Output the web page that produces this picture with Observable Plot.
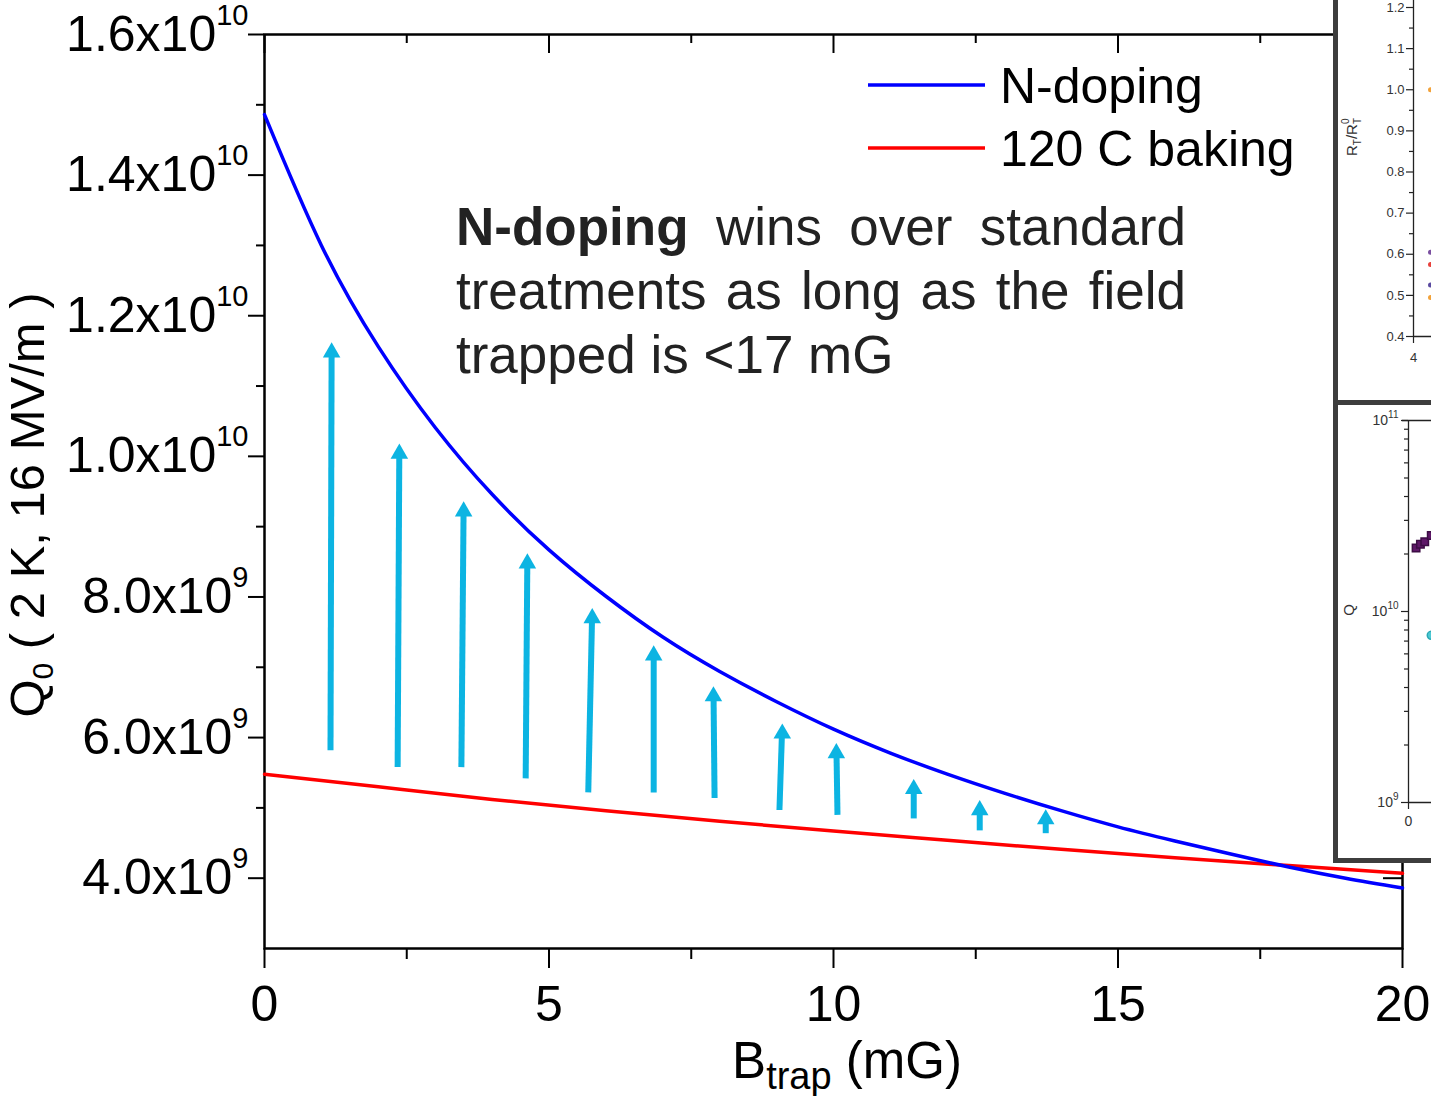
<!DOCTYPE html>
<html>
<head>
<meta charset="utf-8">
<script src="https://cdn.jsdelivr.net/npm/d3@7"></script>
<script src="https://cdn.jsdelivr.net/npm/@observablehq/plot@0.6"></script>
<style>
  html, body { margin:0; padding:0; background:#fff; overflow:hidden; width:1431px; height:1096px; }
  #wrap { position:relative; width:1431px; height:1096px; overflow:hidden; font-family:"Liberation Sans", Arial, sans-serif; }
  #main { position:absolute; left:0; top:0; }
  .note { position:absolute; left:456px; width:730px; font-size:53px; line-height:64px; color:#222; font-family:"Liberation Sans", Arial, sans-serif; }
  .note div { white-space:nowrap; }
  .note .j { text-align:justify; text-align-last:justify; white-space:normal; }
  .inset { position:absolute; box-sizing:border-box; border:5px solid #3d3d3d; background:#fff; overflow:hidden; }
  .inset svg { max-width:none !important; }
</style>
</head>
<body>
<div id="wrap">
  <div id="main"></div>
  <div class="note" style="top:195px;">
    <div class="j"><b>N-doping</b> wins over standard</div>
    <div class="j">treatments as long as the field</div>
    <div>trapped is &lt;17 mG</div>
  </div>
  <div class="inset" id="inset1" style="left:1333px; top:-10px; width:200px; height:415px;"></div>
  <div class="inset" id="inset2" style="left:1333px; top:400px; width:200px; height:463px;"></div>
</div>
<script>
// ---------------- data (main chart) ----------------
const bTrap = [0,1,2,3,4,5,6,7,8,9,10,11,12,13,14,15,16,17,18,19,20];
const qNDoping = [14.86e9,13.00e9,11.56e9,10.41e9,9.46e9,8.67e9,8.01e9,7.43e9,6.94e9,6.51e9,6.12e9,5.78e9,5.48e9,5.21e9,4.96e9,4.73e9,4.53e9,4.34e9,4.16e9,4.00e9,3.86e9];
const bTrapBaking = [0,2,4,6,8,10,12,14,16,18,20];
const qBaking = [5.48e9,5.30e9,5.12e9,4.96e9,4.81e9,4.67e9,4.54e9,4.41e9,4.29e9,4.18e9,4.07e9];

const arrowTailB = [1.16,2.34,3.46,4.59,5.69,6.84,7.91,9.05,10.07,11.41,12.57,13.73];
const arrowTailQ = [5.82e9,5.58e9,5.58e9,5.42e9,5.22e9,5.22e9,5.14e9,4.97e9,4.90e9,4.85e9,4.68e9,4.64e9];
const arrowTipB  = [1.18,2.37,3.50,4.62,5.76,6.84,7.89,9.10,10.05,11.41,12.57,13.73];
const arrowTipQ  = [11.62e9,10.18e9,9.36e9,8.62e9,7.84e9,7.31e9,6.73e9,6.20e9,5.92e9,5.41e9,5.11e9,4.98e9];

const xMajorTicks = [0,5,10,15,20];
const xMinorTicks = [2.5,7.5,12.5,17.5];
const yMajorTicks = [4e9,6e9,8e9,1.0e10,1.2e10,1.4e10,1.6e10];
const yMinorTicks = [5e9,7e9,9e9,1.1e10,1.3e10,1.5e10];
const yTickLabels = ["4.0x10^9","6.0x10^9","8.0x10^9","1.0x10^10","1.2x10^10","1.4x10^10","1.6x10^10"];

const seriesNames = ["N-doping","120 C baking"];
const seriesColors = ["#0000ff","#ff0000"];
const arrowColor = "#0cb4e2";

// ---------------- data (inset panels, cropped) ----------------
const inset1Ticks = [0.4,0.5,0.6,0.7,0.8,0.9,1.0,1.1,1.2];
const inset1Minor = [0.45,0.55,0.65,0.75,0.85,0.95,1.05,1.15];
const inset1Labels = ["0.4","0.5","0.6","0.7","0.8","0.9","1.0","1.1","1.2"];
const inset1X = [4.85,4.85,4.85,4.85,4.85];
const inset1Y = [1.0,0.605,0.575,0.525,0.495];
const inset1Colors = ["#f2a23a","#7a4fa0","#e8413c","#5a4aa0","#f2a23a"];

const inset2Major = [1e9,1e10,1e11];
const inset2Labels = ["10^9","10^10","10^11"];
const inset2Minor = [2e9,3e9,4e9,5e9,6e9,7e9,8e9,9e9,2e10,3e10,4e10,5e10,6e10,7e10,8e10,9e10];
const inset2SqX = [0.7,1.1,1.5,2.1];
const inset2SqQ = [2.15e10,2.25e10,2.32e10,2.5e10];
const inset2CircX = [2.1];
const inset2CircQ = [7.5e9];

// ---------------- main chart ----------------
const W = 1431, H = 1096, mL = 264, mT = 34, mR = 29, mB = 148;
const plotH = H - mT - mB, plotW = W - mL - mR;
const font = "Liberation Sans, Arial, sans-serif";

const curveData = bTrap.map((b,i) => ({b, q: qNDoping[i]}));
const bakingData = bTrapBaking.map((b,i) => ({b, q: qBaking[i]}));
const arrows = arrowTailB.map((b,i) => ({x1: b, y1: arrowTailQ[i], x2: arrowTipB[i], y2: arrowTipQ[i]}));

const main = Plot.plot({
  width: W, height: H,
  marginLeft: mL, marginTop: mT, marginRight: mR, marginBottom: mB,
  x: {domain: [0, 20], axis: null},
  y: {domain: [3e9, 1.6e10], axis: null},
  style: {fontFamily: font, background: "white", overflow: "visible", color: "black"},
  marks: [
    Plot.ruleX(xMajorTicks, {stroke: "black", strokeWidth: 2, insetTop: plotH, insetBottom: -20}),
    Plot.ruleX(xMinorTicks, {stroke: "black", strokeWidth: 2, insetTop: plotH, insetBottom: -11}),
    Plot.ruleX(xMajorTicks, {stroke: "black", strokeWidth: 2, insetBottom: plotH - 19}),
    Plot.ruleX(xMinorTicks, {stroke: "black", strokeWidth: 2, insetBottom: plotH - 9}),
    Plot.ruleY(yMajorTicks, {stroke: "black", strokeWidth: 2, insetLeft: -16, insetRight: plotW}),
    Plot.ruleY(yMinorTicks, {stroke: "black", strokeWidth: 2, insetLeft: -8, insetRight: plotW}),
    Plot.ruleY(yMajorTicks, {stroke: "black", strokeWidth: 2, insetLeft: plotW - 19}),
    Plot.ruleY(yMinorTicks, {stroke: "black", strokeWidth: 2, insetLeft: plotW - 9}),
    Plot.frame({stroke: "black", strokeWidth: 2.5}),
    Plot.line(bakingData, {x: "b", y: "q", stroke: seriesColors[1], strokeWidth: 3.5, curve: "natural"}),
    Plot.line(curveData, {x: "b", y: "q", stroke: seriesColors[0], strokeWidth: 3.5, curve: "natural"}),
    Plot.arrow(arrows, {x1: "x1", y1: "y1", x2: "x2", y2: "y2", stroke: arrowColor, strokeWidth: 6,
      headLength: 0, insetEnd: 9, strokeLinecap: "butt"}),
    Plot.dot(arrows, {x: "x2", y: "y2", symbol: "triangle", r: 6.5, fill: arrowColor, stroke: null, dy: 10}),
    Plot.text(xMajorTicks, {x: d => d, text: d => String(d), frameAnchor: "bottom", lineAnchor: "top",
      dy: 37, fontSize: 50, fill: "black"}),
    Plot.text(yMajorTicks, {y: d => d, text: (d, i) => yTickLabels[i], frameAnchor: "left", textAnchor: "end",
      dx: -16, fontSize: 50, fill: "black"})
  ]
});
document.getElementById("main").appendChild(main);

function superscriptify(svg, supSize, supDy) {
  d3.select(svg).selectAll("text").each(function() {
    const s = this.textContent;
    if (s.indexOf("^") < 0) return;
    const [base, exp] = s.split("^");
    const t = d3.select(this);
    t.selectAll("*").remove();
    t.text(null);
    t.append("tspan").text(base);
    t.append("tspan").attr("dy", supDy).attr("font-size", supSize).text(exp);
  });
}
superscriptify(main, 29, -26);

const svgM = d3.select(main);
// x title
const xt = svgM.append("text").attr("x", 847).attr("y", 1078).attr("text-anchor", "middle")
  .attr("font-size", 51).attr("fill", "black").attr("font-family", font);
xt.append("tspan").text("B");
xt.append("tspan").attr("font-size", 38).attr("dy", 11).text("trap");
xt.append("tspan").attr("dy", -11).text(" (mG)");
// y title
const yt = svgM.append("text").attr("transform", "translate(44,505) rotate(-90)").attr("text-anchor", "middle")
  .attr("font-size", 49).attr("fill", "black").attr("font-family", font);
yt.append("tspan").text("Q");
yt.append("tspan").attr("font-size", 30).attr("dy", 9).text("0");
yt.append("tspan").attr("dy", -9).text(" ( 2 K, 16 MV/m )");
// legend
const legY = [85, 148];
seriesNames.forEach((name, i) => {
  svgM.append("line").attr("x1", 868).attr("x2", 985).attr("y1", legY[i]).attr("y2", legY[i])
    .attr("stroke", seriesColors[i]).attr("stroke-width", 3.5);
  svgM.append("text").attr("x", 1000).attr("y", legY[i] + 18).attr("font-size", 50).attr("text-anchor", "start")
    .attr("fill", "black").attr("font-family", font).text(name);
});

function fixSize(p, w, h) {
  p.style.maxWidth = "none";
  p.style.width = w + "px";
  p.style.height = h + "px";
}

// ---------------- inset 1 (cropped) ----------------
{
  const w = 400, h = 400, l = 75, t = 12, b = 59, r = 5;
  const pw = w - l - r, ph = h - t - b;
  const pts = inset1X.map((x, i) => ({x, y: inset1Y[i], c: inset1Colors[i]}));
  const p = Plot.plot({
    width: w, height: h, marginLeft: l, marginTop: t, marginBottom: b, marginRight: r,
    x: {domain: [4, 20], axis: null}, y: {domain: [0.4, 1.2], axis: null},
    style: {fontFamily: font, background: "white", overflow: "visible", maxWidth: "none"},
    marks: [
      Plot.ruleX([4], {stroke: "#222", strokeWidth: 1.3, insetTop: -30}),
      Plot.ruleY([0.4], {stroke: "#222", strokeWidth: 1.3}),
      Plot.ruleY(inset1Ticks, {stroke: "#222", strokeWidth: 1.2, insetLeft: -7, insetRight: pw}),
      Plot.ruleY(inset1Minor, {stroke: "#222", strokeWidth: 1.2, insetLeft: -4, insetRight: pw}),
      Plot.ruleX([4], {stroke: "#222", strokeWidth: 1.2, insetTop: ph, insetBottom: -7}),
      Plot.text(inset1Ticks, {y: d => d, text: (d, i) => inset1Labels[i], frameAnchor: "left", textAnchor: "end",
        dx: -9, fontSize: 13, fill: "#333"}),
      Plot.text([4], {x: d => d, text: d => String(d), frameAnchor: "bottom", lineAnchor: "top", dy: 16,
        fontSize: 13, fill: "#333"}),
      Plot.dot(pts, {x: "x", y: "y", fill: "c", r: 2.5})
    ]
  });
  fixSize(p, w, h);
  document.getElementById("inset1").appendChild(p);
  const t1 = d3.select(p).append("text").attr("transform", "translate(19,142) rotate(-90)")
    .attr("text-anchor", "middle").attr("font-size", 15).attr("fill", "#333").attr("font-family", font);
  t1.append("tspan").text("R");
  t1.append("tspan").attr("font-size", 10).attr("dy", 4).text("T");
  t1.append("tspan").attr("dy", -4).text("/R");
  t1.append("tspan").attr("font-size", 10).attr("dy", 4).text("T");
  t1.append("tspan").attr("font-size", 10).attr("dx", -6).attr("dy", -12).text("0");
}

// ---------------- inset 2 (cropped) ----------------
{
  const w = 400, h = 453, l = 70, t = 15, b = 56, r = 5;
  const pw = w - l - r, ph = h - t - b;
  const sq = inset2SqX.map((x, i) => ({x, q: inset2SqQ[i]}));
  const ci = inset2CircX.map((x, i) => ({x, q: inset2CircQ[i]}));
  const p = Plot.plot({
    width: w, height: h, marginLeft: l, marginTop: t, marginBottom: b, marginRight: r,
    x: {domain: [0, 30], axis: null}, y: {type: "log", domain: [1e9, 1e11], axis: null},
    style: {fontFamily: font, background: "white", overflow: "visible", maxWidth: "none"},
    marks: [
      Plot.ruleX([0], {stroke: "#222", strokeWidth: 1.3}),
      Plot.ruleY([1e9], {stroke: "#222", strokeWidth: 1.3}),
      Plot.ruleY([1e11], {stroke: "#222", strokeWidth: 1.3, insetLeft: -6}),
      Plot.ruleY(inset2Major, {stroke: "#222", strokeWidth: 1.2, insetLeft: -7, insetRight: pw}),
      Plot.ruleY(inset2Minor, {stroke: "#222", strokeWidth: 1.2, insetLeft: -4, insetRight: pw}),
      Plot.ruleX([0], {stroke: "#222", strokeWidth: 1.2, insetTop: ph, insetBottom: -7}),
      Plot.text(inset2Major, {y: d => d, text: (d, i) => inset2Labels[i], frameAnchor: "left", textAnchor: "end",
        dx: -10, fontSize: 14, fill: "#333"}),
      Plot.text([0], {x: d => d, text: d => String(d), frameAnchor: "bottom", lineAnchor: "top", dy: 14,
        fontSize: 14, fill: "#333"}),
      Plot.dot(sq, {x: "x", y: "q", symbol: "square", r: 4.2, fill: "#5e1768", stroke: "#3c0c44"}),
      Plot.dot(ci, {x: "x", y: "q", r: 4, fill: "#4cc9d4", stroke: "#2aa8b4"})
    ]
  });
  fixSize(p, w, h);
  document.getElementById("inset2").appendChild(p);
  superscriptify(p, 10, -7);
  d3.select(p).append("text").attr("transform", "translate(16,205) rotate(-90)")
    .attr("text-anchor", "middle").attr("font-size", 15).attr("fill", "#333").attr("font-family", font).text("Q");
}
</script>
</body>
</html>
